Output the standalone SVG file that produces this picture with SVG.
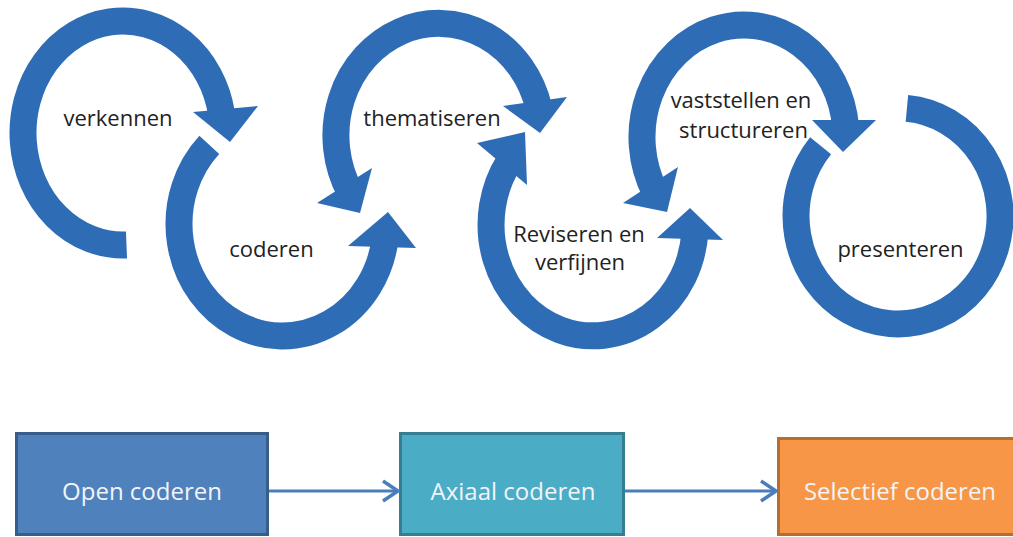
<svg xmlns="http://www.w3.org/2000/svg" width="1013" height="537" viewBox="0 0 1013 537">
<style>
.ring{fill:none;stroke:#2E6DB6;stroke-width:27;stroke-linecap:butt}
.head{fill:#2E6DB6}
.lbl{font-family:"Open Sans","Liberation Sans",sans-serif;font-size:22px;fill:#222;text-anchor:middle}
.btxt{font-family:"Open Sans","Liberation Sans",sans-serif;font-size:24px;fill:#F2F4F8;text-anchor:middle}
.conn{stroke:#4A7EBB;stroke-width:3;fill:none}
</style>
<defs>
<marker id="chev" markerUnits="userSpaceOnUse" viewBox="0 0 20 24" refX="18" refY="12" markerWidth="20" markerHeight="24" orient="auto">
<path d="M3,2 L18,12 L3,22" fill="none" stroke="#4A7EBB" stroke-width="3.5"/>
</marker>
</defs>
<rect width="1013" height="537" fill="#fff"/>
<g id="verkennen">
<path class="ring" d="M126.5,244.9 A100,112 0 1 1 221.5,113.6"/>
<polygon class="head" points="193,112 258,106 230,142"/>
<text class="lbl" x="118" y="126">verkennen</text>
</g>
<g id="coderen">
<path class="ring" d="M209.3,144.8 A103.5,112 0 1 0 385,239.6"/>
<polygon class="head" points="348,246 416,248 388,212"/>
<text class="lbl" x="271.5" y="257">coderen</text>
</g>
<g id="thematiseren">
<path class="ring" d="M349.8,191.5 A103,112 0 1 1 538.9,108.4"/>
<polygon class="head" points="317,203 372,168 360,213"/>
<polygon class="head" points="503,106 567,97 540,133"/>
<text class="lbl" x="432" y="126">thematiseren</text>
</g>
<g id="reviseren">
<path class="ring" d="M509.4,161.3 A102,111 0 1 0 694.9,230.8"/>
<polygon class="head" points="477,143 525,132 527,185"/>
<polygon class="head" points="657,238 690,208 723,240"/>
<text class="lbl" x="579" y="242">Reviseren en</text>
<text class="lbl" x="580" y="270">verfijnen</text>
</g>
<g id="vaststellen">
<path class="ring" d="M654.8,191.3 A102,112 0 1 1 845.6,127.2"/>
<polygon class="head" points="623,203 678,167 667,212"/>
<polygon class="head" points="812,120 876,120 843,152"/>
<text class="lbl" x="741" y="108">vaststellen en</text>
<text class="lbl" x="743.5" y="138">structureren</text>
</g>
<g id="presenteren">
<path class="ring" d="M820.6,145.7 A102,108 0 1 0 906.9,108.4"/>
<text class="lbl" x="900.5" y="257">presenteren</text>
</g>
<g id="open-coderen">
<rect x="16.5" y="433.5" width="251" height="101" fill="#4F81BD" stroke="#385D8A" stroke-width="3"/>
<text class="btxt" x="142" y="500">Open coderen</text>
</g>
<g id="axiaal-coderen">
<rect x="400.5" y="433.5" width="223" height="101" fill="#4BACC6" stroke="#357D91" stroke-width="3"/>
<text class="btxt" x="513" y="500">Axiaal coderen</text>
</g>
<g id="selectief-coderen">
<rect x="778.5" y="438.5" width="250" height="96" fill="#F79646" stroke="#B66D31" stroke-width="3"/>
<text class="btxt" x="900" y="500">Selectief coderen</text>
</g>
<g id="connectors">
<line class="conn" x1="269" y1="491" x2="398" y2="491" marker-end="url(#chev)"/>
<line class="conn" x1="625" y1="491" x2="776" y2="491" marker-end="url(#chev)"/>
</g>
</svg>
